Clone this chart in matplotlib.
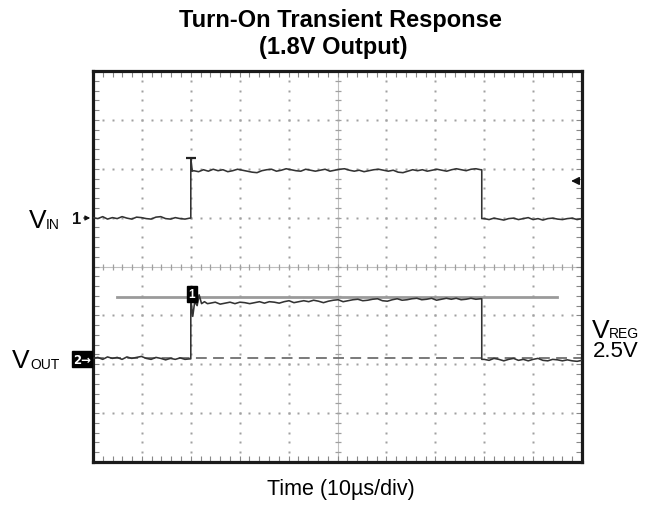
import numpy as np
import matplotlib
matplotlib.use("Agg")
import matplotlib.pyplot as plt

plt.rcParams['font.family'] = ['Liberation Sans', 'DejaVu Sans']

# ---------------- data (in scope divisions) ----------------
title_lines = ["Turn-On Transient Response", "(1.8V Output)"]
xlabel = "Time (10\u00b5s/div)"

# VIN trace (channel 1)
vin_low1 = [1.00, 0.98, 1.02, 0.97, 1.00, 0.98, 1.02, 0.99, 0.97, 1.01, 1.00,
            0.98, 0.97, 1.01, 1.02, 0.98, 0.97, 1.00, 0.98, 0.97, 0.99]
vin_edge_t = [2.0, 2.0, 2.03]
vin_edge_v = [0.99, 2.22, 1.95]
vin_high = [1.96, 1.94, 1.98, 1.95, 1.99, 1.96, 1.98, 1.94, 1.96, 1.99,
            1.97, 1.95, 1.93, 1.92, 1.96, 1.98, 1.99, 1.95, 1.97, 2.00,
            1.98, 1.96, 1.95, 1.99, 1.97, 1.95, 1.97, 1.99, 1.95, 1.97,
            1.99, 2.00, 1.97, 1.95, 1.97, 1.94, 1.96, 1.98, 1.99, 1.97,
            1.95, 1.97, 1.93, 1.92, 1.95, 1.98, 1.96, 1.98, 1.95, 1.97,
            1.99, 1.97, 1.95, 1.98, 2.00, 1.98, 1.96, 1.99, 2.00, 1.98]
vin_fall_t = [7.95, 7.95]
vin_fall_v = [1.98, 0.98]
vin_low2 = [0.98, 0.96, 0.99, 0.97, 0.95, 0.98, 0.99, 0.96, 0.98, 1.00, 0.96,
            0.98, 0.95, 0.98, 0.99, 0.97, 0.96, 0.98, 0.99, 0.96, 0.98]

# VOUT trace (channel 2)
vout_low1 = [-1.88, -1.86, -1.90, -1.85, -1.88, -1.86, -1.90, -1.85, -1.88, -1.86,
             -1.84, -1.88, -1.90, -1.86, -1.88, -1.91, -1.88, -1.90, -1.87, -1.90, -1.89]
vout_edge_t = [2.0, 2.0, 2.04, 2.08, 2.13, 2.17, 2.22, 2.28, 2.34]
vout_edge_v = [-1.89, -0.66, -1.02, -0.72, -0.80, -0.58, -0.76, -0.72, -0.76]
vout_high = [-0.75, -0.73, -0.77, -0.75, -0.73, -0.76, -0.73, -0.74, -0.76, -0.74,
             -0.72, -0.75, -0.72, -0.73, -0.75, -0.72, -0.70, -0.74, -0.72, -0.70,
             -0.72, -0.69, -0.71, -0.74, -0.71, -0.69, -0.68, -0.72, -0.70, -0.68,
             -0.67, -0.70, -0.69, -0.67, -0.66, -0.70, -0.71, -0.68, -0.66, -0.69,
             -0.68, -0.66, -0.65, -0.68, -0.67, -0.65, -0.69, -0.67, -0.65, -0.67,
             -0.65, -0.68, -0.67, -0.65, -0.67, -0.66]
vout_fall_t = [7.95, 7.95]
vout_fall_v = [-0.66, -1.90]
vout_low2 = [-1.90, -1.92, -1.88, -1.90, -1.93, -1.90, -1.88, -1.92, -1.90, -1.93, -1.90,
             -1.88, -1.92, -1.93, -1.90, -1.91, -1.93, -1.91, -1.93, -1.94, -1.92]

cursor_level = -0.63
cursor_span = [0.49, 9.49]
vreg_level = -1.87
trigger_level = 1.75

vin_t = np.concatenate([np.linspace(0.0, 1.98, len(vin_low1)), vin_edge_t,
                        np.linspace(2.06, 7.93, len(vin_high)), vin_fall_t,
                        np.linspace(8.0, 10.0, len(vin_low2))])
vin_v = np.concatenate([vin_low1, vin_edge_v, vin_high, vin_fall_v, vin_low2])
vout_t = np.concatenate([np.linspace(0.0, 1.98, len(vout_low1)), vout_edge_t,
                         np.linspace(2.40, 7.93, len(vout_high)), vout_fall_t,
                         np.linspace(8.0, 10.0, len(vout_low2))])
vout_v = np.concatenate([vout_low1, vout_edge_v, vout_high, vout_fall_v, vout_low2])

# ---------------- figure ----------------
W, H = 657, 506
fig = plt.figure(figsize=(W / 100, H / 100), dpi=100)
ax = fig.add_axes([93 / W, 1 - 463 / H, (582 - 93) / W, (463 - 72) / H])
ax.set_xlim(0, 10)
ax.set_ylim(-4, 4)

def px(x, y):
    return x / W, 1 - y / H

grid_c = '#a0a0a0'
# dotted graticule
fine = np.arange(0, 10.001, 0.2)
fine_y = np.arange(-4, 4.001, 0.2)
for k in range(1, 10):
    if k == 5:
        continue
    ax.plot(np.full_like(fine_y, k), fine_y, ls='none', marker='s', ms=1.7,
            mec='none', mfc=grid_c, zorder=1)
for k in range(-3, 4):
    if k == 0:
        continue
    ax.plot(fine, np.full_like(fine, k), ls='none', marker='s', ms=1.7,
            mec='none', mfc=grid_c, zorder=1)
# centre cross with ticks
ax.axhline(0, color='#c0c0c0', lw=0.8, zorder=1)
ax.axvline(5, color='#c0c0c0', lw=0.8, zorder=1)
ax.plot(fine, np.zeros_like(fine), ls='none', marker='|', ms=5, mew=0.9,
        color=grid_c, zorder=1)
ax.plot(np.full_like(fine_y, 5), fine_y, ls='none', marker='_', ms=5, mew=0.9,
        color=grid_c, zorder=1)

# frame ticks
ax.set_xticks(np.arange(0, 10.01, 1))
ax.set_yticks(np.arange(-4, 4.01, 1))
ax.set_xticks(fine, minor=True)
ax.set_yticks(fine_y, minor=True)
ax.tick_params(which='both', direction='in', length=4, width=0.8, color='#888',
               top=True, right=True, labelbottom=False, labelleft=False)
for s in ax.spines.values():
    s.set_linewidth(2.3)
    s.set_color('#1a1a1a')

# reference lines
ax.plot([0, 10], [vreg_level, vreg_level], color='#707070', lw=1.3,
        dashes=(6, 3.5), zorder=2)
ax.plot(cursor_span, [cursor_level, cursor_level], color='#9a9a9a', lw=2.0, zorder=2)

# traces
ax.plot(vin_t, vin_v, color='#333333', lw=1.15, zorder=3)
ax.plot([2.0], [2.22], marker='_', ms=7, mew=1.6, color='#222', zorder=4)
ax.plot(vout_t, vout_v, color='#333333', lw=1.15, zorder=3)

# cursor marker "1"
ax.text(2.02, -0.56, "1", color='white', fontsize=8.5, fontweight='bold',
        ha='center', va='center', zorder=5,
        bbox=dict(boxstyle='square,pad=0.15', fc='black', ec='black'))

# trigger arrow at right edge
ax.annotate('', xy=(9.72, trigger_level), xytext=(9.99, trigger_level),
            arrowprops=dict(arrowstyle='-|>', color='#111', lw=1.0,
                            mutation_scale=12), zorder=5)

# channel markers
fig.text(*px(81, 220), "1", fontsize=12, fontweight='bold',
         ha='right', va='center', color='#111')
ax.annotate('', xy=px(93, 219), xytext=px(81, 219), xycoords='figure fraction',
            textcoords='figure fraction', annotation_clip=False,
            arrowprops=dict(arrowstyle='-|>', color='#111', lw=0.9,
                            mutation_scale=7))
fig.text(*px(91, 360), "2\u2192", family='DejaVu Sans', fontsize=8.5,
         fontweight='bold', ha='right', va='center', color='white',
         bbox=dict(boxstyle='square,pad=0.12', fc='black', ec='black'))

# side labels
fig.text(*px(37.5, 228), "V", fontsize=19, ha='center', va='baseline')
fig.text(*px(46, 229), "IN", fontsize=10, ha='left', va='baseline')
fig.text(*px(21, 368), "V", fontsize=19, ha='center', va='baseline')
fig.text(*px(30, 369), "OUT", fontsize=10, ha='left', va='baseline')
fig.text(*px(600.5, 338), "V", fontsize=19, ha='center', va='baseline')
fig.text(*px(609, 338), "REG", fontsize=10, ha='left', va='baseline')
fig.text(*px(593, 357), "2.5V", fontsize=16, ha='left', va='baseline')

# title and x label
fig.text(*px(340, 27), title_lines[0], fontsize=17, fontweight='bold',
         ha='center', va='baseline')
fig.text(*px(333, 54), title_lines[1], fontsize=17, fontweight='bold',
         ha='center', va='baseline')
fig.text(*px(340.5, 495), xlabel, fontsize=15.5, ha='center', va='baseline')

fig.savefig("out.png", dpi=100)
